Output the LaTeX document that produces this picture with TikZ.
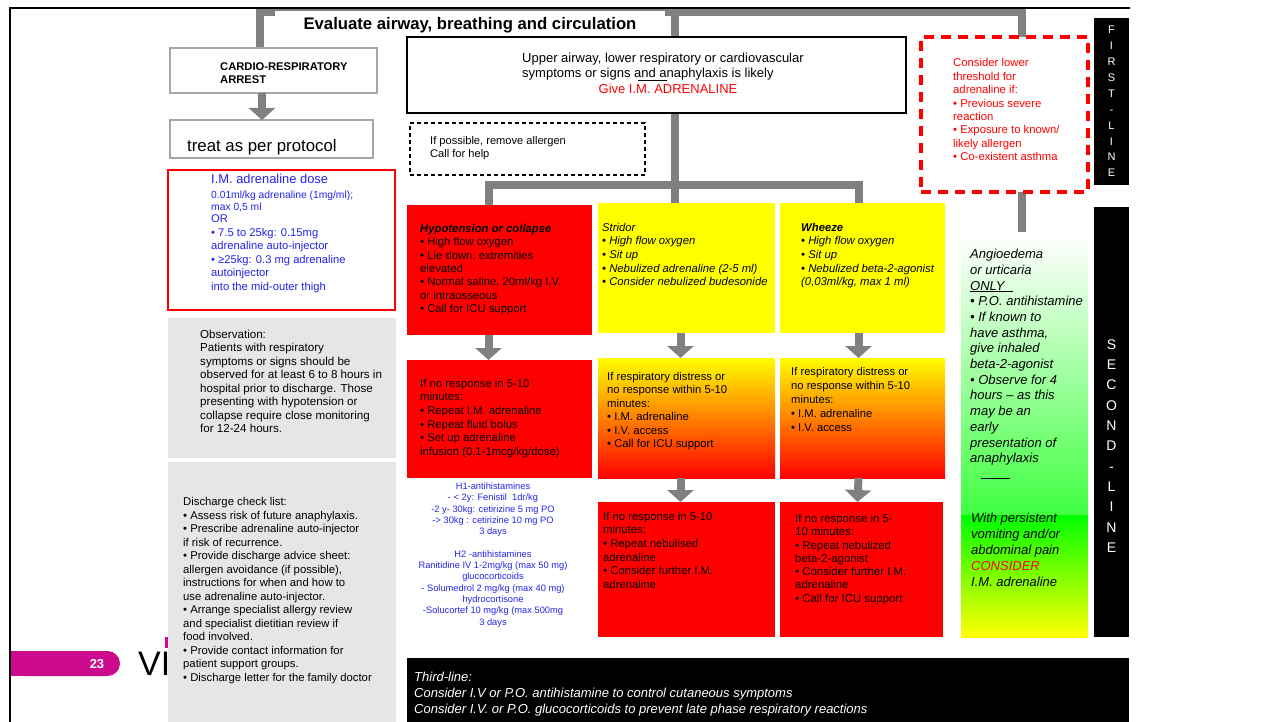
\documentclass[tikz,border=0pt]{standalone}
\usepackage{fontspec}
\setmainfont{Liberation Sans}
\usetikzlibrary{arrows.meta,backgrounds}

\definecolor{linkgray}{HTML}{808080}
\definecolor{bordergray}{HTML}{A6A6A6}
\definecolor{boxred}{HTML}{FF0000}
\definecolor{boxyellow}{HTML}{FFFF00}
\definecolor{dosblue}{HTML}{2323EE}
\definecolor{panelgray}{HTML}{E6E6E6}
\definecolor{pagepink}{HTML}{CC0A8C}
\definecolor{midgreen}{HTML}{40FF40}
\definecolor{puregreen}{HTML}{00FF00}

\tikzset{
  conn/.style={line width=8pt, draw=linkgray},
  garrow/.style={conn, -{Triangle[width=26pt,length=12pt]}},
  box/.style={anchor=north west, inner sep=0pt, outer sep=0pt},
  txt/.style={anchor=north west, inner sep=0pt, yshift=-1.5pt, align=left, font=\fontsize{11.3}{13.5}\selectfont},
  bluetxt/.style={txt, text=dosblue},
  ittxt/.style={txt, font=\itshape\fontsize{11.3}{13.6}\selectfont},
}

\begin{document}
\begin{tikzpicture}[x=1pt, y=-1pt]
    \useasboundingbox (0,0) rectangle (1284,722);
    % Trunk points
    \coordinate (trunkL) at (260,12);
    \coordinate (trunkM) at (675,12);
    \coordinate (trunkR) at (1022,12);
    \coordinate (fork) at (675,185);
    \coordinate (angiotop) at (1022,232);
    % Title
    \node[fill=white, inner sep=0pt, minimum width=390pt, minimum height=28pt,
          font=\bfseries\fontsize{16.7}{18}\selectfont] (title) at (470,25)
          {Evaluate airway, breathing and circulation};
    % Cardio-respiratory arrest
    \node[box, draw=bordergray, line width=1.5pt, fill=white, minimum width=207pt, minimum height=45pt] (cardio) at (170,48) {};
    \node[txt, font=\bfseries\fontsize{11.2}{13}\selectfont] at (220,60.5) {CARDIO-RESPIRATORY\\ARREST};
    \node[box, draw=bordergray, line width=1.5pt, fill=white, minimum width=203pt, minimum height=38pt] (protocol) at (170,120) {};
    \node[anchor=west, inner sep=0pt, font=\fontsize{16.8}{19}\selectfont] at (187,147.5) {treat as per protocol};
    \draw[garrow] ([xshift=-11.5pt]cardio.south) -- ([xshift=-9.5pt]protocol.north);
    % Dose
    \node[box, draw=boxred, line width=1.2pt, fill=white, minimum width=227pt, minimum height=140pt] (dose) at (168,170) {};
    \node[bluetxt, font=\fontsize{12.9}{14}\selectfont] at (211,172.5) {I.M. adrenaline dose};
    \node[bluetxt, font=\fontsize{10.3}{12}\selectfont] at (211,189.5) {0.01ml/kg adrenaline (1mg/ml);\\max 0,5 ml};
    \node[bluetxt, font=\fontsize{11.2}{13.6}\selectfont] at (211,213) {OR\\• 7.5 to 25kg: 0.15mg\\adrenaline auto-injector\\• ≥25kg: 0.3 mg adrenaline\\autoinjector\\into the mid-outer thigh};
    % Observation
    \node[box, fill=panelgray, minimum width=228pt, minimum height=140pt] (obs) at (168,318) {};
    \node[txt, font=\fontsize{11.6}{13.5}\selectfont] at (200,328) {Observation:\\Patients with respiratory\\symptoms or signs should be\\observed for at least 6 to 8 hours in\\hospital prior to discharge. Those\\presenting with hypotension or\\collapse require close monitoring\\for 12-24 hours.};
    % Page number and logo
    \fill[pagepink, rounded corners=12.5pt] (10,651) rectangle (120,676);
    \fill[pagepink] (10,651) rectangle (40,676);
    \node[text=white, font=\bfseries\fontsize{13}{15}\selectfont] (pagenum) at (97,664) {23};
    \node[anchor=west, inner sep=0pt, font=\fontsize{34}{36}\selectfont] (logo) at (138,664) {VI};
    \fill[pagepink] (165,637) rectangle (170,648);
    % Discharge
    \node[box, fill=panelgray, minimum width=228pt, minimum height=262pt] (discharge) at (168,462) {};
    \node[txt] at (183,496) {Discharge check list:\\• Assess risk of future anaphylaxis.\\• Prescribe adrenaline auto-injector\\if risk of recurrence.\\• Provide discharge advice sheet:\\allergen avoidance (if possible),\\instructions for when and how to\\use adrenaline auto-injector.\\• Arrange specialist allergy review\\and specialist dietitian review if\\food involved.\\• Provide contact information for\\patient support groups.\\• Discharge letter for the family doctor};
    % Upper airway
    \node[box, draw=black, line width=1.5pt, fill=white, minimum width=499pt, minimum height=76pt] (upper) at (407,37) {};
    \node[txt, font=\fontsize{13}{15}\selectfont] at (522,51) {Upper airway, lower respiratory or cardiovascular\\symptoms or signs and anaphylaxis is likely};
    \node[text=boxred, inner sep=0pt, font=\fontsize{13}{15}\selectfont] at (668,88.5) {Give I.M. ADRENALINE};
    \draw[line width=1pt] (638,81) -- (667,81);
    % Remove allergen
    \node[box, draw=black, dash pattern=on 4pt off 3pt, line width=1.3pt, minimum width=235pt, minimum height=52pt] (allergen) at (410,123) {};
    \node[txt, font=\fontsize{11.1}{13}\selectfont] at (430,135) {If possible, remove allergen\\Call for help};
    % Lower threshold
    \node[box, draw=boxred, line width=3.5pt, dash pattern=on 10pt off 7pt, fill=white, minimum width=167pt, minimum height=155pt] (lower) at (921,37) {};
    \node[txt, text=boxred, font=\fontsize{11.3}{13.4}\selectfont] at (953,57) {Consider lower\\threshold for\\adrenaline if:\\• Previous severe\\reaction\\• Exposure to known/\\likely allergen\\• Co-existent asthma};
    % Line labels
    \node[box, fill=black, minimum width=35pt, minimum height=167pt] (firstbar) at (1094,18) {};
    \node[text=white, align=center, inner sep=0pt, font=\fontsize{11}{15.9}\selectfont] at (firstbar.center) {F\\I\\R\\S\\T\\-\\L\\I\\N\\E};
    \node[box, fill=black, minimum width=35pt, minimum height=430pt] (secondbar) at (1094,207) {};
    \node[text=white, align=center, inner sep=0pt, font=\fontsize{14}{20.3}\selectfont] at (1111.5,446) {S\\E\\C\\O\\N\\D\\-\\L\\I\\N\\E};
    % First row
    \node[box, fill=boxred, minimum width=185pt, minimum height=130pt] (hyp) at (407,205) {};
    \node[txt, font=\fontsize{11.3}{13.4}\selectfont] at (420,222.5) {\textbf{\textit{Hypotension or collapse}}\\• High flow oxygen\\• Lie down, extremities\\elevated\\• Normal saline, 20ml/kg I.V.\\or intraosseous\\• Call for ICU support};
    \node[box, fill=boxyellow, minimum width=177pt, minimum height=130pt] (stridor) at (598,203) {};
    \node[ittxt] at (602,221.5) {Stridor\\• High flow oxygen\\• Sit up\\• Nebulized adrenaline (2-5 ml)\\• Consider nebulized budesonide};
    \node[box, fill=boxyellow, minimum width=165pt, minimum height=130pt] (wheeze) at (780,203) {};
    \node[ittxt] at (801,221.5) {\textbf{Wheeze}\\• High flow oxygen\\• Sit up\\• Nebulized beta-2-agonist\\(0,03ml/kg, max 1 ml)};
    % Second row
    \node[box, fill=boxred, minimum width=185pt, minimum height=118pt] (hyp2) at (407,360) {};
    \node[txt, font=\fontsize{11.3}{13.6}\selectfont] at (420,377.5) {If no response in 5-10\\minutes:\\• Repeat I.M. adrenaline\\• Repeat fluid bolus\\• Set up adrenaline\\infusion (0,1-1mcg/kg/dose)};
    \node[box, top color=boxyellow, bottom color=boxred, minimum width=177pt, minimum height=120pt] (stridor2) at (598,358) {};
    \node[txt] at (607,370.5) {If respiratory distress or\\no response within 5-10\\minutes:\\• I.M. adrenaline\\• I.V. access\\• Call for ICU support};
    \node[box, top color=boxyellow, bottom color=boxred, minimum width=165pt, minimum height=120pt] (wheeze2) at (780,358) {};
    \node[txt, font=\fontsize{11.2}{14}\selectfont] at (791,365.5) {If respiratory distress or\\no response within 5-10\\minutes:\\• I.M. adrenaline\\• I.V. access};
    % Antihistamines
    \node[anchor=north, inner sep=0pt, align=center, text=dosblue, font=\fontsize{9.3}{11.3}\selectfont] (antihist) at (493,482.5)
        {H1-antihistamines\\- < 2y: Fenistil\ \ 1dr/kg\\-2 y- 30kg: cetirizine 5 mg PO\\-> 30kg : cetirizine 10 mg PO\\3 days\\[11.3pt]H2 -antihistamines\\Ranitidine IV 1-2mg/kg (max 50 mg)\\glucocorticoids\\- Solumedrol 2 mg/kg (max 40 mg)\\hydrocortisone\\-Solucortef 10 mg/kg (max 500mg\\3 days};
    % Third row
    \node[box, fill=boxred, minimum width=177pt, minimum height=135pt] (stridor3) at (598,502) {};
    \node[txt, font=\fontsize{11.3}{13.6}\selectfont] at (603,510.5) {If no response in 5-10\\minutes:\\• Repeat nebulised\\adrenaline\\• Consider further I.M.\\adrenaline};
    \node[box, fill=boxred, minimum width=163pt, minimum height=135pt] (wheeze3) at (780,502) {};
    \node[txt, font=\fontsize{11.4}{13.3}\selectfont] at (795,512.5) {If no response in 5-\\10 minutes:\\• Repeat nebulized\\beta-2-agonist\\• Consider further I.M.\\adrenaline\\• Call for ICU support};
    % Row arrows
    \draw[garrow] ([xshift=-11pt]hyp.south) -- ([xshift=-11pt]hyp2.north);
    \draw[garrow] ([xshift=-6pt]stridor.south) -- ([xshift=-6pt]stridor2.north);
    \draw[garrow] ([xshift=-4pt]wheeze.south) -- ([xshift=-4pt]wheeze2.north);
    \draw[garrow] ([xshift=-6pt]stridor2.south) -- ([xshift=-6pt]stridor3.north);
    \draw[garrow] ([xshift=-4pt]wheeze2.south) -- ([xshift=-4pt]wheeze3.north);
    % Angioedema column
    \shade[top color=white, bottom color=midgreen] (961,237) rectangle (1088,515);
    \shade[top color=puregreen, bottom color=boxyellow] (961,515) rectangle (1088,637);
    \node[txt, font=\itshape\fontsize{13}{15.7}\selectfont] (angio) at (970,247.5) {Angioedema\\or urticaria\\\underline{ONLY\hspace{9pt}}\\• P.O. antihistamine\\• If known to\\have asthma,\\give inhaled\\beta-2-agonist\\• Observe for 4\\hours – as this\\may be an\\early\\presentation of\\anaphylaxis};
    \draw[line width=0.8pt] (981,478) -- (1010,478);
    \node[txt, font=\itshape\fontsize{13}{16}\selectfont] (vomit) at (971,511.5) {With persistent\\vomiting and/or\\abdominal pain\\\textcolor{boxred}{CONSIDER}\\I.M. adrenaline};
    % Third line
    \node[box, fill=black, minimum width=722pt, minimum height=64pt] (thirdline) at (407,658) {};
    \node[txt, text=white, font=\itshape\fontsize{13}{16}\selectfont] at (414,670) {Third-line:\\Consider I.V or P.O. antihistamine to control cutaneous symptoms\\Consider I.V. or P.O. glucocorticoids to prevent late phase respiratory reactions};
    % Connectors behind
    \begin{pgfonlayer}{background}
        \draw[conn] (trunkL |- cardio.north) -- (trunkL) -- (trunkR) -- (angiotop);
        \draw[conn] (trunkM) -- (fork);
        \draw[conn] ([xshift=-11pt]hyp.north) |- (fork) -| ([xshift=-4pt]wheeze.north);
        \draw[conn] (fork) -- (fork |- stridor.north);
    \end{pgfonlayer}
    % Frame
    \draw[line width=2pt] (10,722) -- (10,8) -- (1130,8);
\end{tikzpicture}
\end{document}
